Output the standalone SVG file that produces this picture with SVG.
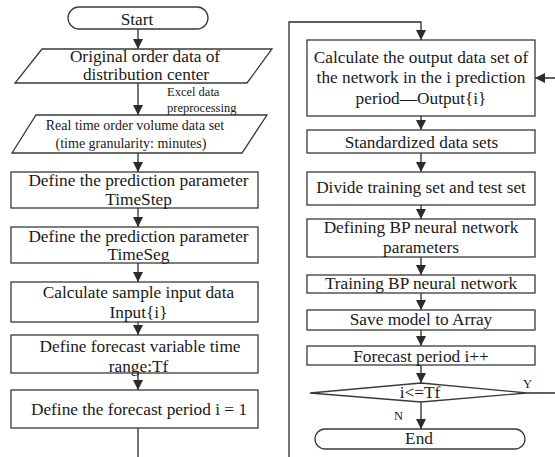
<svg xmlns="http://www.w3.org/2000/svg" width="555" height="457" viewBox="0 0 555 457">
<defs>
<marker id="ah" viewBox="0 0 10 10" refX="10" refY="5" markerWidth="10" markerHeight="10" markerUnits="userSpaceOnUse" orient="auto">
<path d="M0,0 L10,5 L0,10 z" fill="#2b2b2b"/>
</marker>
<style>
.s{fill:#fff;stroke:#3a3a3a;stroke-width:1.3}
.c{fill:none;stroke:#2b2b2b;stroke-width:1.3}
.t{font-family:"Liberation Serif","Times New Roman",serif;font-size:17.3px;fill:#1a1a1a;text-anchor:middle}
.m{font-family:"Liberation Serif","Times New Roman",serif;font-size:14px;fill:#1a1a1a;text-anchor:middle}
.l{font-family:"Liberation Serif","Times New Roman",serif;font-size:12.5px;fill:#1a1a1a}
</style>
</defs>
<g id="connectors">
<path class="c" d="M138,29 V49" marker-end="url(#ah)"/>
<path class="c" d="M138,83 V115" marker-end="url(#ah)"/>
<path class="c" d="M138,153 V172" marker-end="url(#ah)"/>
<path class="c" d="M138,208 V227" marker-end="url(#ah)"/>
<path class="c" d="M138,263 V282" marker-end="url(#ah)"/>
<path class="c" d="M138,322 V335" marker-end="url(#ah)"/>
<path class="c" d="M138,373 V390" marker-end="url(#ah)"/>
<path class="c" d="M138,428 V458"/>
<path class="c" d="M289,458 V22 H421 V40" marker-end="url(#ah)"/>
<path class="c" d="M421,116 V130" marker-end="url(#ah)"/>
<path class="c" d="M421,153 V172" marker-end="url(#ah)"/>
<path class="c" d="M421,205 V219" marker-end="url(#ah)"/>
<path class="c" d="M421,257 V275" marker-end="url(#ah)"/>
<path class="c" d="M421,293 V310" marker-end="url(#ah)"/>
<path class="c" d="M421,330 V346" marker-end="url(#ah)"/>
<path class="c" d="M421,365 V383" marker-end="url(#ah)"/>
<path class="c" d="M421,402 V429" marker-end="url(#ah)"/>
<path class="c" d="M527,393 H557 V78 H535" marker-end="url(#ah)"/>
<text class="l" x="167" y="96">Excel data</text>
<text class="l" x="167" y="112">preprocessing</text>
<text class="l" x="523" y="388">Y</text>
<text class="l" x="394" y="420">N</text>
</g>
<g id="start">
<rect class="s" x="68" y="7" width="140" height="22" rx="11"/>
<text class="t" x="137" y="25">Start</text>
</g>
<g id="original-data">
<path class="s" d="M42,49 H272 L247,83 H15 Z"/>
<text class="t" x="145" y="62">Original order data of</text>
<text class="t" x="146" y="80">distribution center</text>
</g>
<g id="realtime-data">
<path class="s" d="M36,115 H267 L242,153 H12 Z"/>
<text class="m" x="135" y="130">Real time order volume data set</text>
<text class="m" x="131" y="148">(time granularity: minutes)</text>
</g>
<g id="timestep">
<rect class="s" x="11" y="172" width="247" height="36"/>
<text class="t" x="138.5" y="186">Define the prediction parameter</text>
<text class="t" x="138.5" y="205">TimeStep</text>
</g>
<g id="timeseg">
<rect class="s" x="11" y="227" width="247" height="36"/>
<text class="t" x="138.5" y="241.5">Define the prediction parameter</text>
<text class="t" x="138.5" y="260">TimeSeg</text>
</g>
<g id="input">
<rect class="s" x="11" y="282" width="247" height="40"/>
<text class="t" x="138.5" y="298">Calculate sample input data</text>
<text class="t" x="138.5" y="318">Input{i}</text>
</g>
<g id="tf">
<rect class="s" x="11" y="335" width="247" height="38"/>
<text class="t" x="140" y="352">Define forecast variable time</text>
<text class="t" x="138.5" y="372">range:Tf</text>
</g>
<g id="period-init">
<rect class="s" x="11" y="390" width="247" height="38"/>
<text class="t" x="139" y="415">Define the forecast period i = 1</text>
</g>
<g id="output">
<rect class="s" x="307" y="40" width="228" height="76"/>
<text class="t" x="421" y="63">Calculate the output data set of</text>
<text class="t" x="421" y="83">the network in the i prediction</text>
<text class="t" x="421" y="104">period—Output{i}</text>
</g>
<g id="standardize">
<rect class="s" x="307" y="130" width="228" height="23"/>
<text class="t" x="421.5" y="148">Standardized data sets</text>
</g>
<g id="divide">
<rect class="s" x="307" y="172" width="228" height="33"/>
<text class="t" x="421" y="193">Divide training set and test set</text>
</g>
<g id="define-bp">
<rect class="s" x="307" y="219" width="228" height="38"/>
<text class="t" x="421" y="233">Defining BP neural network</text>
<text class="t" x="421" y="253">parameters</text>
</g>
<g id="train">
<rect class="s" x="307" y="275" width="228" height="18"/>
<text class="t" x="421" y="289">Training BP neural network</text>
</g>
<g id="save">
<rect class="s" x="307" y="310" width="228" height="20"/>
<text class="t" x="421" y="325">Save model to Array</text>
</g>
<g id="increment">
<rect class="s" x="307" y="346" width="228" height="19"/>
<text class="t" x="421" y="362">Forecast period i++</text>
</g>
<g id="decision">
<path class="s" d="M421,383 L527,393 L421,402 L310,393 Z"/>
<text class="t" x="420" y="398">i&lt;=Tf</text>
</g>
<g id="end">
<rect class="s" x="315" y="429" width="210" height="20" rx="10"/>
<text class="t" x="419" y="444">End</text>
</g>
</svg>
